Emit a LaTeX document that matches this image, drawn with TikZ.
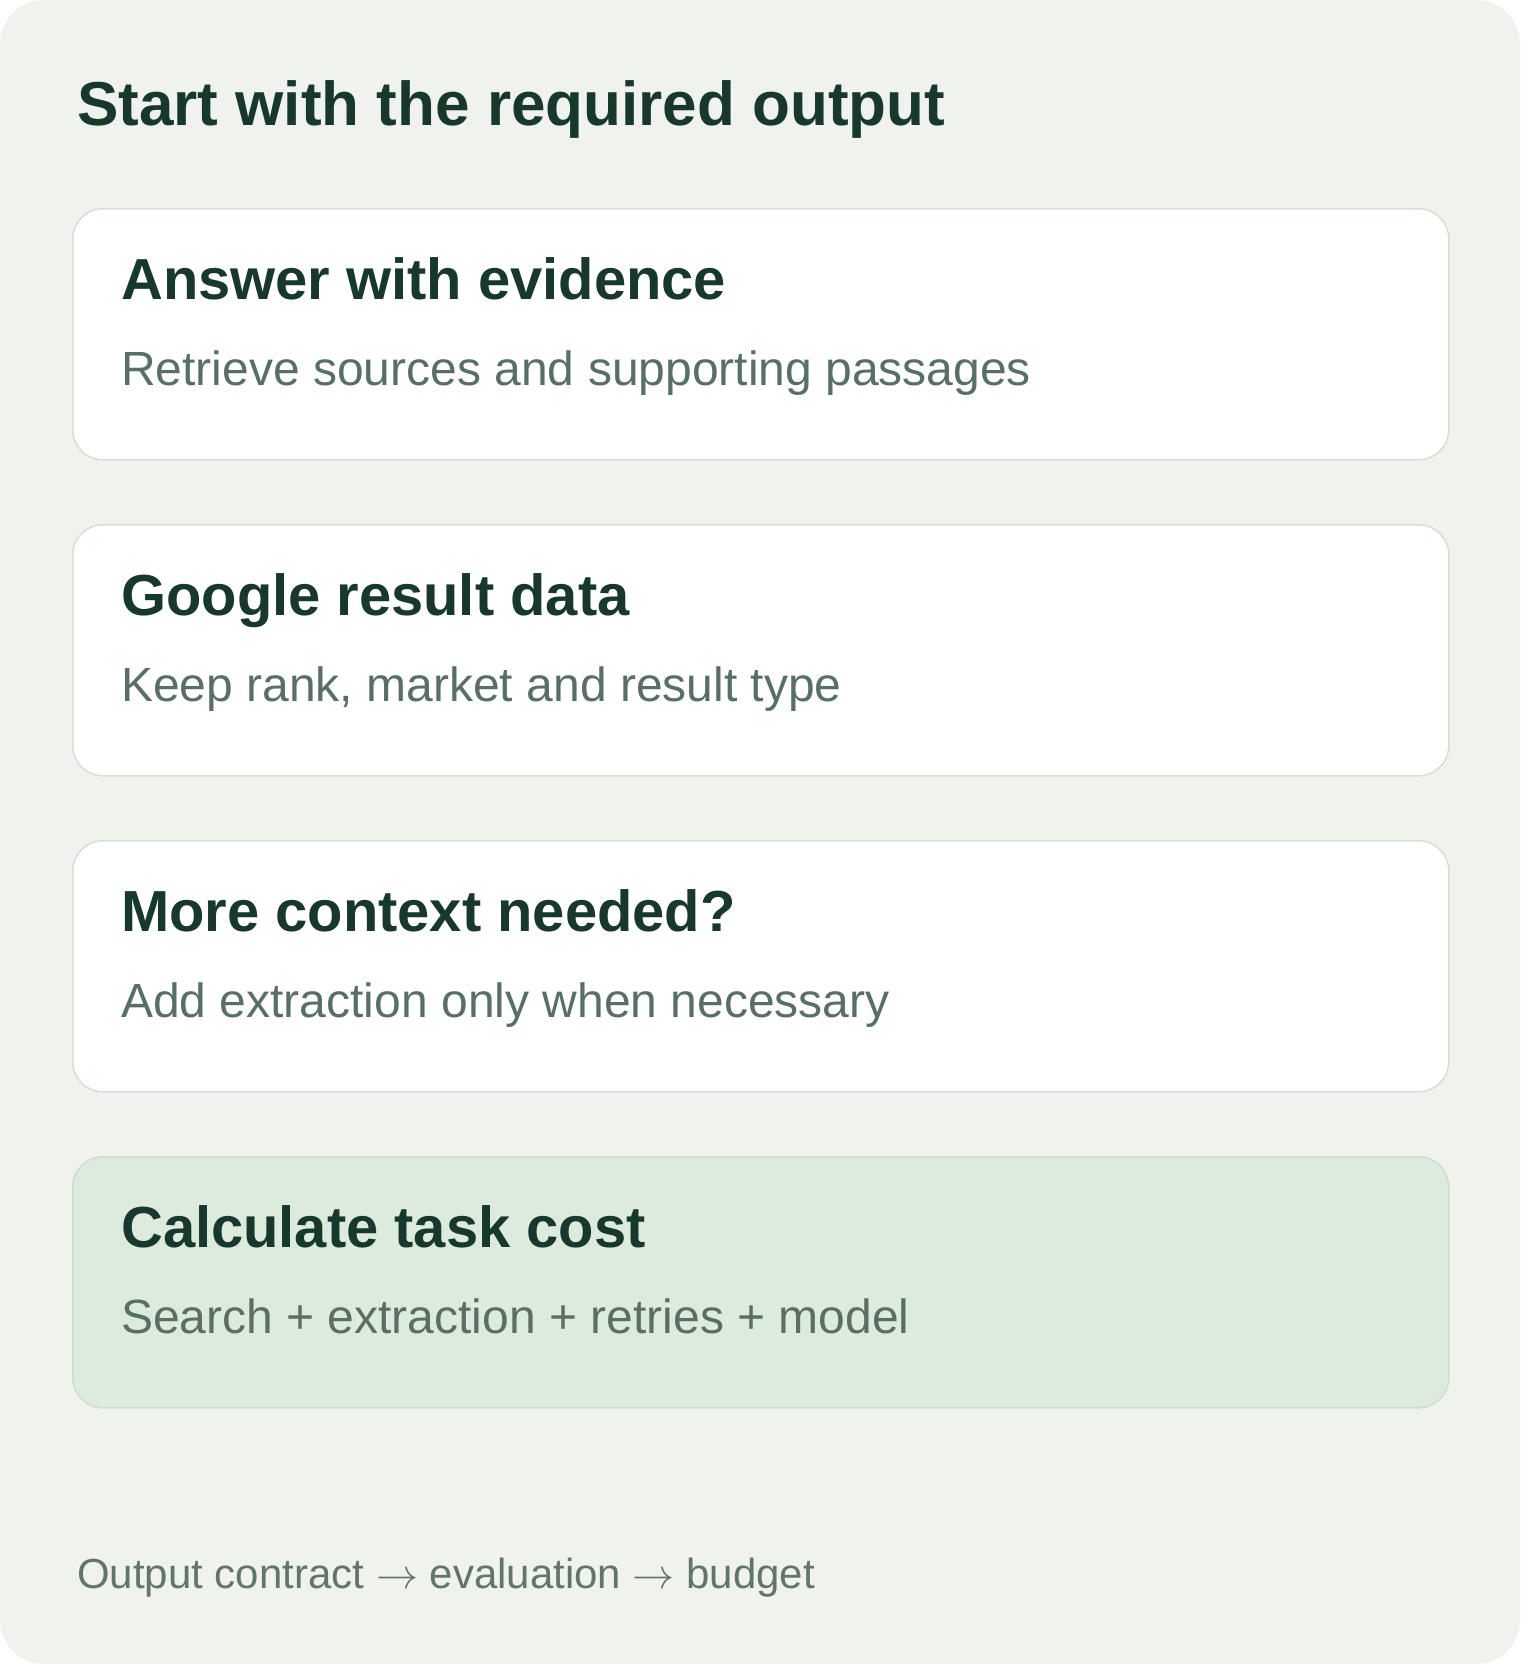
\RequirePackage{fix-cm}
\documentclass[tikz,border=0pt]{standalone}
\usepackage{fontspec}
\setmainfont{Liberation Sans}
\usetikzlibrary{positioning}

\definecolor{pagebg}{HTML}{F0F2EE}
\definecolor{cardline}{HTML}{D6DFD4}
\definecolor{costfill}{HTML}{DDEBDD}
\definecolor{costline}{HTML}{CEDDCF}
\definecolor{headtext}{HTML}{17382D}
\definecolor{subtext}{HTML}{587063}
\definecolor{foottext}{HTML}{61766A}

\tikzset{
	card/.style={draw=cardline, line width=1.5pt, fill=white, rounded corners=30pt,
		minimum width=1376pt, minimum height=251pt, anchor=north west, inner sep=0pt},
	costcard/.style={card, draw=costline, fill=costfill},
	cardhead/.style={anchor=base west, inner sep=0pt, text=headtext,
		font=\fontsize{57.9}{70}\selectfont\bfseries},
	cardsub/.style={anchor=base west, inner sep=0pt, text=subtext,
		font=\fontsize{48}{58}\selectfont}
}

\begin{document}
\begin{tikzpicture}[x=1pt, y=-1pt]

				\useasboundingbox (0,0) rectangle (1520,1664);
				\fill [pagebg, rounded corners=44pt] (0,0) rectangle (1520,1664);

				\node [anchor=base west, inner sep=0pt, text=headtext, font=\fontsize{62}{74}\selectfont\bfseries] (title) at (77,126) {Start with the required output};


				\node [card] (answer) at (72,208) {};
				\node [cardhead] (answerhead) at ([xshift=49pt, yshift=-91pt]answer.north west) {Answer with evidence};
				\node [cardsub] (answersub) at ([xshift=49pt, yshift=-177pt]answer.north west) {Retrieve sources and supporting passages};


				\node [card] (google) at (72,524) {};
				\node [cardhead] (googlehead) at ([xshift=49pt, yshift=-91pt]google.north west) {Google result data};
				\node [cardsub] (googlesub) at ([xshift=49pt, yshift=-177pt]google.north west) {Keep rank, market and result type};


				\node [card] (context) at (72,840) {};
				\node [cardhead] (contexthead) at ([xshift=49pt, yshift=-91pt]context.north west) {More context needed?};
				\node [cardsub] (contextsub) at ([xshift=49pt, yshift=-177pt]context.north west) {Add extraction only when necessary};


				\node [costcard] (cost) at (72,1156) {};
				\node [cardhead] (costhead) at ([xshift=49pt, yshift=-91pt]cost.north west) {Calculate task cost};
				\node [cardsub] (costsub) at ([xshift=49pt, yshift=-177pt]cost.north west) {Search + extraction + retries + model};

				\node [anchor=base west, inner sep=0pt, text=foottext, font=\fontsize{42}{50}\selectfont] (footer) at (77,1588) {Output contract $\rightarrow$ evaluation $\rightarrow$ budget};

		\end{tikzpicture}
\end{document}
